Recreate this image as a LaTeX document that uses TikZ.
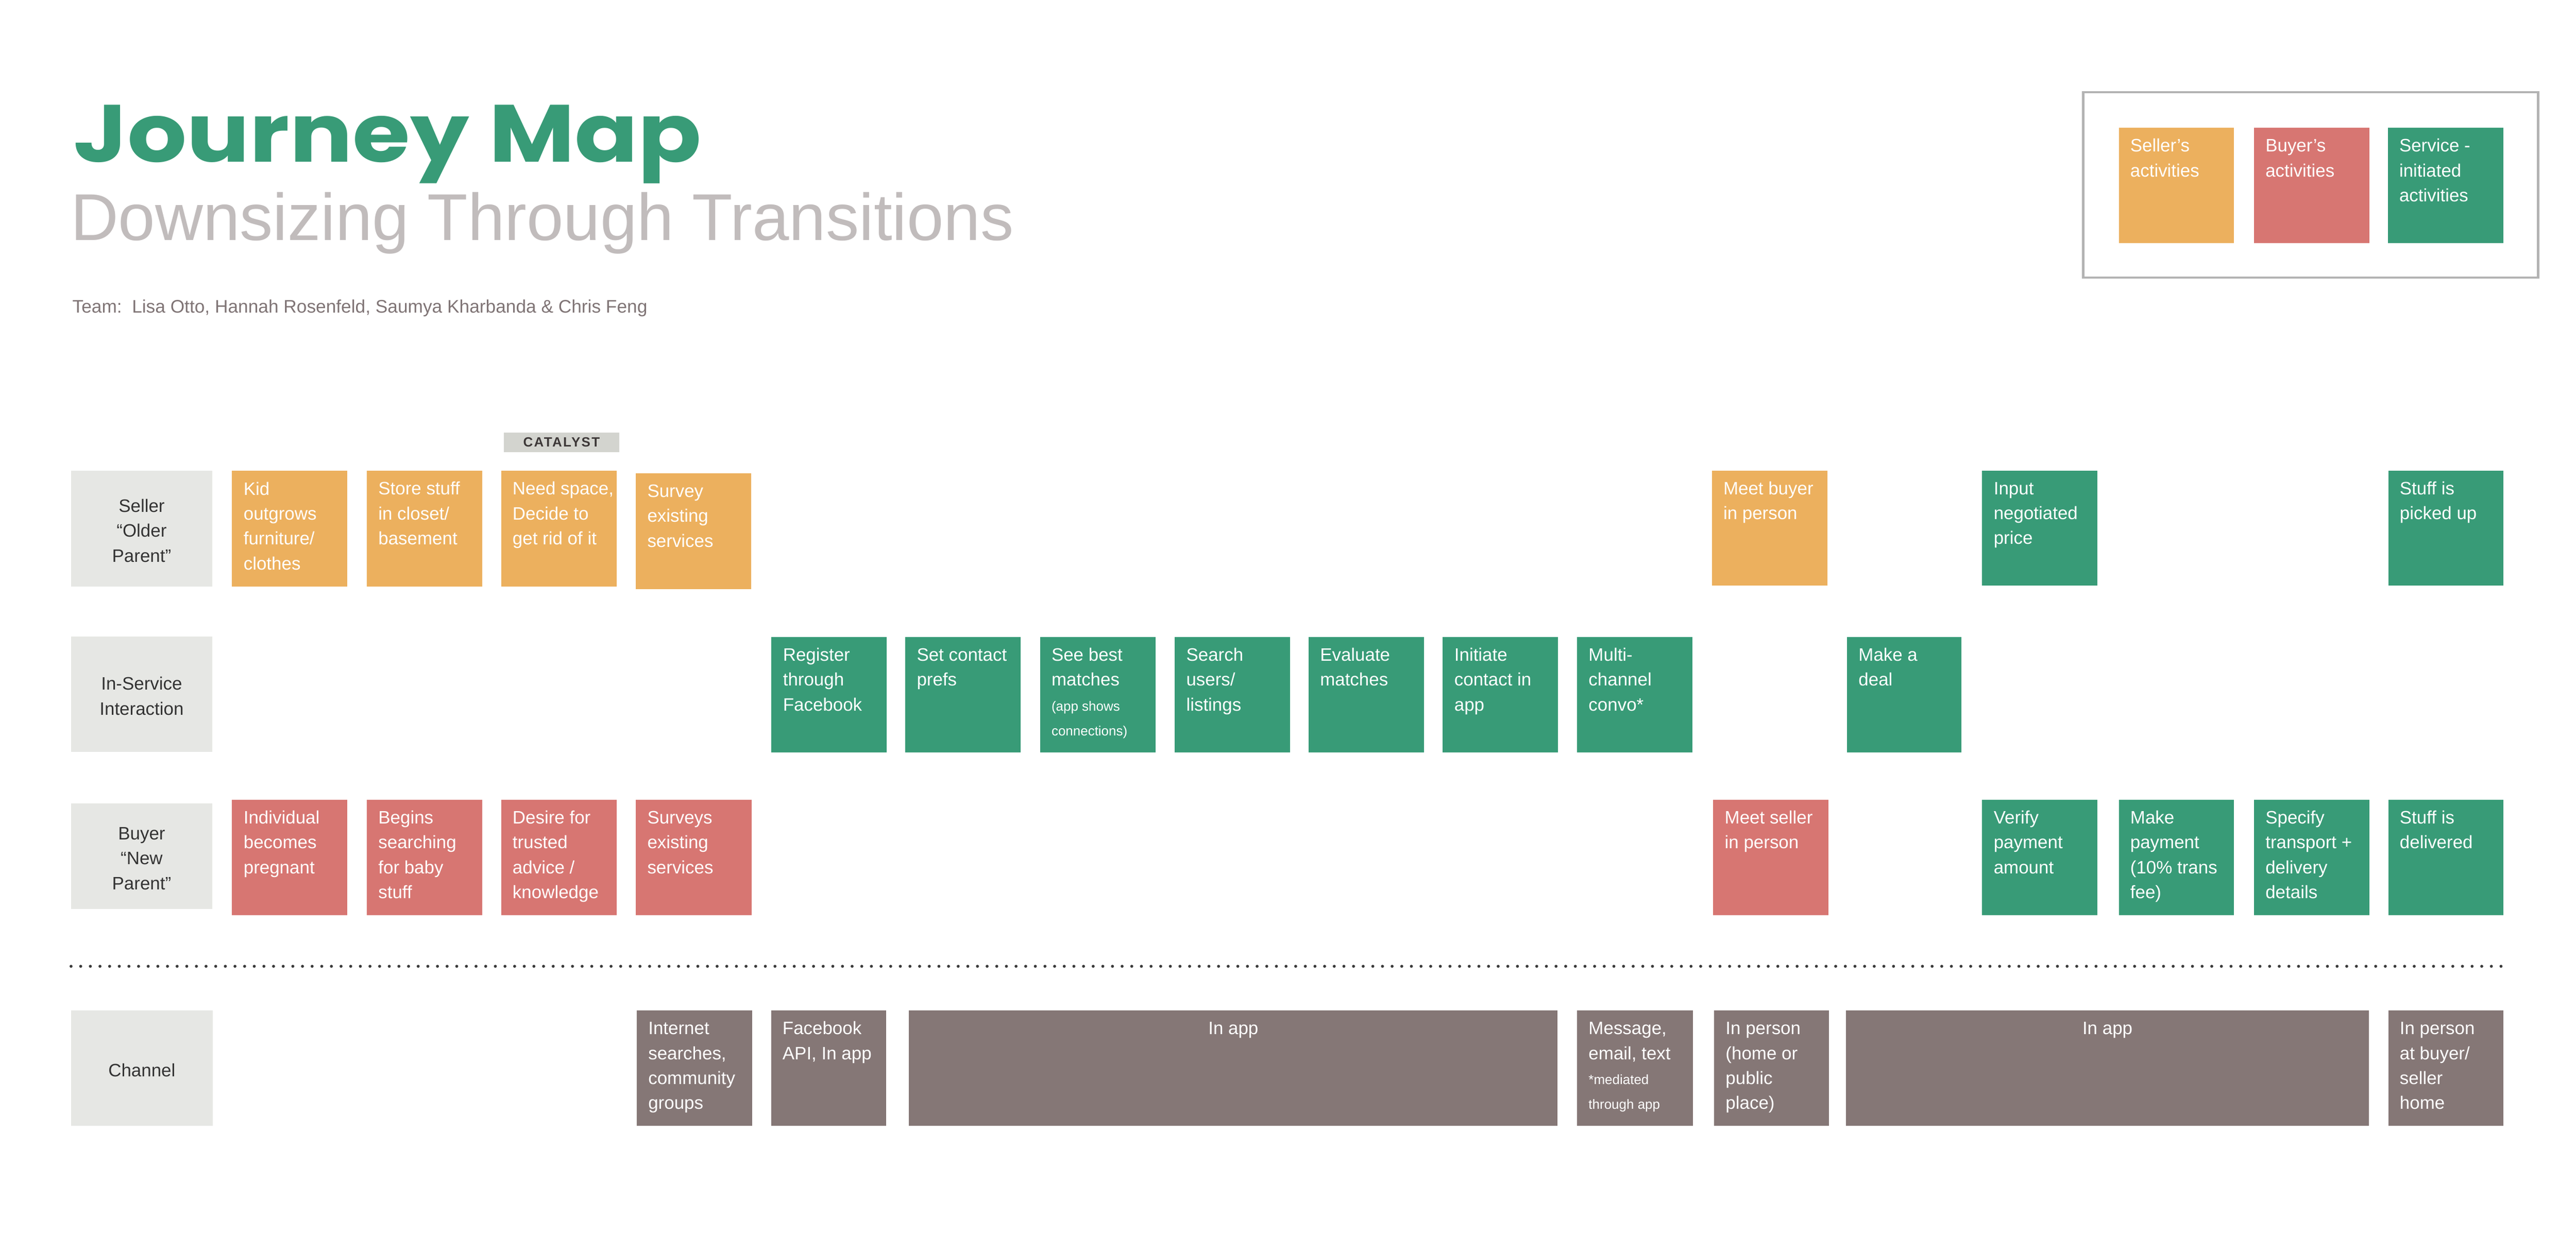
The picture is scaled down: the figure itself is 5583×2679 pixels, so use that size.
\documentclass[tikz,border=0pt]{standalone}
\usepackage{fontspec}
\usepackage{graphicx}
\setmainfont{Liberation Sans}
\newfontfamily\poppins{Poppins}
\definecolor{jgreen}{HTML}{389B77}
\definecolor{jorange}{HTML}{ECB05E}
\definecolor{jred}{HTML}{D77672}
\definecolor{jchan}{HTML}{857776}
\definecolor{jlabel}{HTML}{E6E7E4}
\definecolor{jlabeltext}{HTML}{333333}
\definecolor{jcat}{HTML}{D3D4CF}
\definecolor{jcattext}{HTML}{3D3838}
\definecolor{jlegend}{HTML}{B3B3B3}
\definecolor{jsub}{HTML}{C1BCBC}
\definecolor{jteam}{HTML}{7F7475}
\definecolor{jdots}{HTML}{3A3A3A}
\newcommand\cardfont{\fontsize{3.9}{5.4}\selectfont}
\newcommand\sm{\fontsize{2.9}{5.4}\selectfont}
\newcommand\fl{\rule{0pt}{5pt}}
\newcommand\lf{\rule{0pt}{3.6pt}}
\tikzset{
  cardbox/.style={anchor=north west, inner sep=0pt, outer sep=0pt, draw=none},
  cardtxt/.style={anchor=north west, inner sep=0pt, align=left, text=white, font=\cardfont},
  lanebox/.style={anchor=north west, inner sep=0pt, outer sep=0pt, fill=jlabel, align=center, text=jlabeltext, font=\cardfont},
  dotline/.style={line width=0.65pt, dash pattern=on 0pt off 2.09pt, line cap=round, color=jdots},
}
% name, colour, x, y, width(px), height(px), text
\newcommand\card[7]{%
  \node[cardbox, fill=#2, minimum width={#5*0.1pt}, minimum height={#6*0.1pt}] (#1) at (#3,#4) {};
  \node[cardtxt] (#1-t) at ([xshift=2.3pt]#1.north west) {\fl #7};}
\newcommand\ccard[7]{%
  \node[cardbox, fill=#2, minimum width={#5*0.1pt}, minimum height={#6*0.1pt}] (#1) at (#3,#4) {};
  \node[cardtxt, anchor=north] (#1-t) at (#1.north) {\fl #7};}
\newcommand\lane[6]{%
  \node[lanebox, minimum width={#4*0.1pt}, minimum height={#5*0.1pt}] (#1) at (#2,#3) {\lf #6};}
\begin{document}
\begin{tikzpicture}[x=0.1pt, y=-0.1pt]
\useasboundingbox (0,0) rectangle (5583,2679);
% titles
\node[anchor=base west, inner sep=0pt, text=jgreen, font={\poppins\bfseries\fontsize{17.6}{20}\selectfont}] (title) at (157,351) {\scalebox{1.15}[1]{Journey Map}};
\node[anchor=base west, inner sep=0pt, text=jsub, font={\fontsize{14.35}{16}\selectfont}] (subtitle) at (151,521) {Downsizing Through Transitions};
\node[anchor=base west, inner sep=0pt, text=jteam, font={\fontsize{3.94}{5}\selectfont}] (team) at (155,678) {Team:\ \ Lisa Otto, Hannah Rosenfeld, Saumya Kharbanda \& Chris Feng};
% legend
\node[cardbox, draw=jlegend, line width=0.5pt, minimum width=98.6pt, minimum height=40.2pt] (legend) at (4515,200) {};
\card{lg1}{jorange}{4592}{277}{250}{250}{Seller’s\\activities}
\card{lg2}{jred}{4885}{277}{250}{250}{Buyer’s\\activities}
\card{lg3}{jgreen}{5175}{277}{250}{250}{Service -\\initiated\\activities}
% catalyst
\node[cardbox, fill=jcat, minimum width=25pt, minimum height=4.2pt, text=jcattext,
      font={\bfseries\fontsize{2.9}{3}\selectfont\addfontfeature{LetterSpace=9}}] (catalyst) at (1092,938) {CATALYST};
% lane labels
\lane{lseller}{154}{1021}{306}{251}{Seller\\“Older\\Parent”}
\lane{lservice}{154}{1380}{306}{250}{In-Service\\Interaction}
\lane{lbuyer}{154}{1742}{306}{229}{Buyer\\“New\\Parent”}
\lane{lchannel}{154}{2191}{307}{250}{Channel}
% seller row
\card{s1}{jorange}{503}{1021}{250}{251}{Kid\\outgrows\\furniture/\\clothes}
\card{s2}{jorange}{795}{1021}{250}{251}{Store stuff\\in closet/\\basement}
\card{s3}{jorange}{1086}{1021}{251}{251}{Need space,\\Decide to\\get rid of it}
\card{s4}{jorange}{1378}{1026}{250}{251}{Survey\\existing\\services}
\card{s12}{jorange}{3710}{1020}{251}{250}{Meet buyer\\in person}
\card{s14}{jgreen}{4296}{1020}{250}{250}{Input\\negotiated\\price}
\card{s17}{jgreen}{5176}{1020}{250}{250}{Stuff is\\picked up}
% in-service row
\card{i5}{jgreen}{1672}{1381}{250}{250}{Register\\through\\Facebook}
\card{i6}{jgreen}{1962}{1381}{250}{250}{Set contact\\prefs}
\card{i7}{jgreen}{2254}{1381}{250}{250}{See best\\matches\\\sm (app shows\\\sm connections)}
\card{i8}{jgreen}{2546}{1381}{250}{250}{Search\\users/\\listings}
\card{i9}{jgreen}{2836}{1381}{250}{250}{Evaluate\\matches}
\card{i10}{jgreen}{3127}{1381}{250}{250}{Initiate\\contact in\\app}
\card{i11}{jgreen}{3418}{1381}{250}{250}{Multi-\\channel\\convo*}
\card{i13}{jgreen}{4003}{1381}{248}{250}{Make a\\deal}
% buyer row
\card{b1}{jred}{503}{1734}{250}{250}{Individual\\becomes\\pregnant}
\card{b2}{jred}{795}{1734}{250}{250}{Begins\\searching\\for baby\\stuff}
\card{b3}{jred}{1086}{1734}{251}{250}{Desire for\\trusted\\advice /\\knowledge}
\card{b4}{jred}{1378}{1734}{251}{250}{Surveys\\existing\\services}
\card{b12}{jred}{3713}{1734}{250}{250}{Meet seller\\in person}
\card{b14}{jgreen}{4296}{1734}{250}{250}{Verify\\payment\\amount}
\card{b15}{jgreen}{4592}{1734}{250}{250}{Make\\payment\\(10\% trans\\fee)}
\card{b16}{jgreen}{4885}{1734}{250}{250}{Specify\\transport +\\delivery\\details}
\card{b17}{jgreen}{5176}{1734}{250}{250}{Stuff is\\delivered}
% divider
\coordinate (dstart) at (154,2095);
\coordinate (dend) at (5426,2095);
\draw[dotline] (dstart) -- (dend);
% channel row
\card{c4}{jchan}{1380}{2191}{250}{250}{Internet\\searches,\\community\\groups}
\card{c5}{jchan}{1671}{2191}{250}{250}{Facebook\\API, In app}
\ccard{c6}{jchan}{1970}{2191}{1406}{250}{In app}
\card{c11}{jchan}{3418}{2191}{251}{250}{Message,\\email, text\\\sm *mediated\\\sm through app}
\card{c12}{jchan}{3715}{2191}{249}{250}{In person\\(home or\\public\\place)}
\ccard{c13}{jchan}{4001}{2191}{1133}{250}{In app}
\card{c17}{jchan}{5176}{2191}{249}{250}{In person\\at buyer/\\seller\\home}
\end{tikzpicture}
\end{document}
